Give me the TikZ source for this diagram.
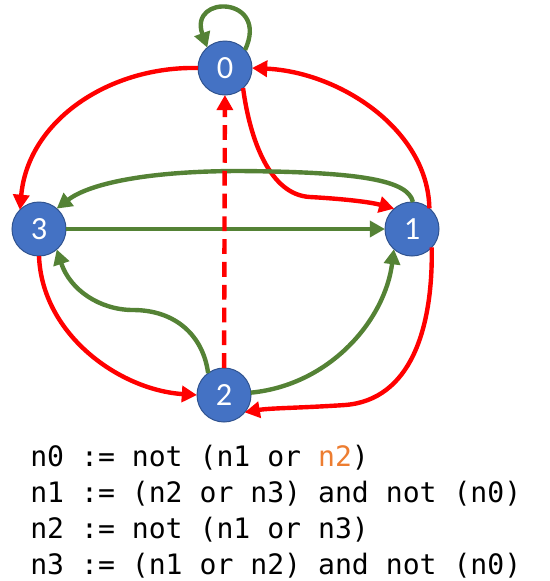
\documentclass[tikz,border=0pt]{standalone}
\usepackage{xcolor}
\usepackage{fontspec}
\setmainfont{Carlito}
\newfontfamily\codefont{DejaVu Sans Mono}
\usepackage{tikz}
\usetikzlibrary{arrows.meta}
\definecolor{stateblue}{HTML}{4472C4}
\definecolor{stateedge}{HTML}{2F528F}
\definecolor{inhred}{HTML}{FF0000}
\definecolor{actgreen}{HTML}{548235}
\definecolor{hlorange}{HTML}{ED7D31}

\begin{document}
\begin{tikzpicture}[
  x=0.025cm, y=-0.025cm,
  >={Triangle[length=3.8mm, width=4mm]},
  state/.style={circle, draw=stateedge, line width=0.7pt, fill=stateblue, minimum size=1.35cm,
    inner sep=0pt, outer sep=0pt, text=white, font=\fontsize{23}{27}\selectfont},
  activate/.style={->, line width=1.1mm, draw=actgreen},
  inhibit/.style={->, line width=1.1mm, draw=inhred},
  rule/.style={anchor=base west, inner sep=0pt, font=\codefont\fontsize{20}{24}\selectfont}
]
\useasboundingbox (0,0) rectangle (550,581);
\node[state] (n0) at (225,68) {0};
\node[state] (n1) at (412,229) {1};
\node[state] (n2) at (224,395) {2};
\node[state] (n3) at (39,229) {3};
\draw[activate] (n0.42) .. controls (270,-4) and (188,-6) .. (n0.131);
\draw[inhibit] (n0.180) .. controls (110,66) and (28,120) .. (n3.135);
\draw[inhibit] (n0.-48) .. controls (250,140) and (270,195) .. (310,197)
  .. controls (345,199) and (370,202) .. (n1.131);
\draw[inhibit] (n1.50) .. controls (428,130) and (340,72) .. (n0.0);
\draw[activate] (n1.88) .. controls (408,180) and (360,172) .. (240,171)
  .. controls (150,171) and (90,183) .. (n3.49);
\draw[activate] (n3) -- (n1);
\draw[activate] (n2.126) .. controls (203,335) and (175,310) .. (133,310)
  .. controls (100,310) and (70,290) .. (n3.-49);
\draw[inhibit] (n3.-90) .. controls (42,335) and (120,390) .. (n2.180);
\draw[activate] (n2.5) .. controls (330,385) and (385,320) .. (n1.-132);
\draw[inhibit] (n1.-43) .. controls (433,330) and (410,400) .. (345,405)
  .. controls (300,408) and (270,408) .. (n2.-40);
\draw[inhibit, dash pattern=on 0.37cm off 0.2cm] (n2) -- (n0);
\node[rule] (rule0) at (30,466) {n0 := not (n1 or \textcolor{hlorange}{n2})};
\node[rule] (rule1) at (30,502) {n1 := (n2 or n3) and not (n0)};
\node[rule] (rule2) at (30,538) {n2 := not (n1 or n3)};
\node[rule] (rule3) at (30,574) {n3 := (n1 or n2) and not (n0)};
\end{tikzpicture}
\end{document}
